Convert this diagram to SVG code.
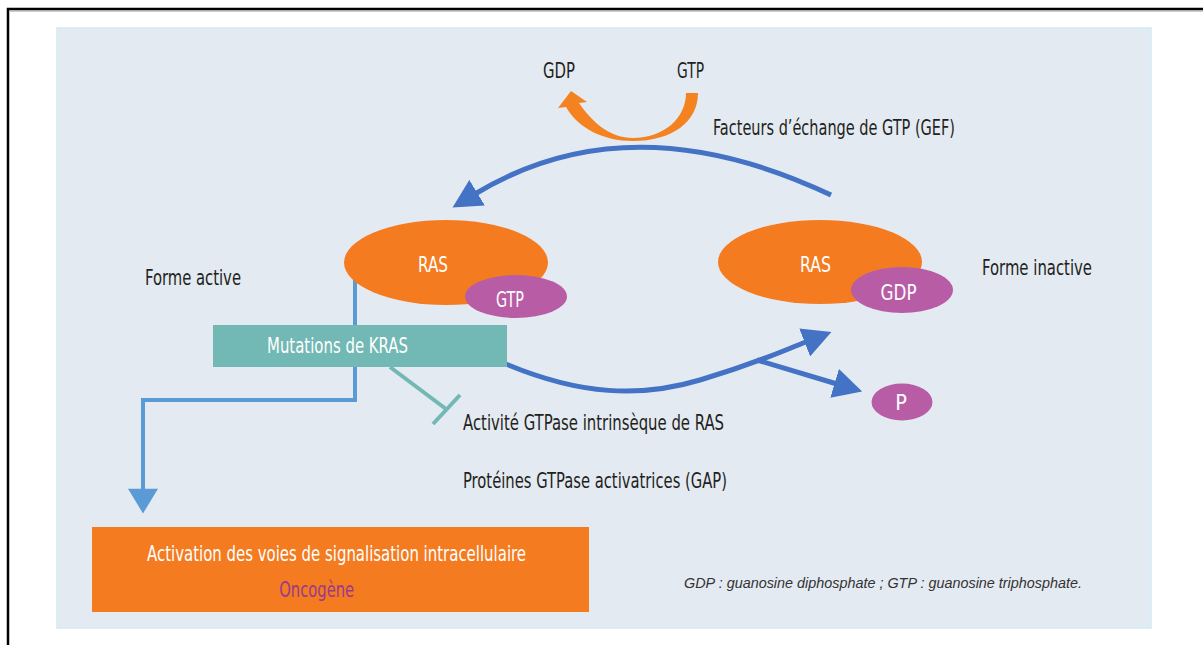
<svg xmlns="http://www.w3.org/2000/svg" width="1203" height="645" viewBox="0 0 1203 645">
<style>
text{font-family:"Liberation Sans Narrow","DejaVu Sans Condensed","Liberation Sans",sans-serif;font-size:21.5px;fill:#231f20}
.w{fill:#ffffff}
.c{text-anchor:middle}
.ras{fill:#f47b20}
.mag{fill:#b95ca6}
.blue{fill:none;stroke:#4472c4;stroke-width:5}
.lblue{fill:none;stroke:#5b9bd5;stroke-width:4}
.teal{fill:none;stroke:#72b8b4;stroke-width:4}
.legend{font-family:"Liberation Sans",sans-serif;font-size:15.5px;font-style:italic;fill:#333}
</style>
<defs>
<marker id="ah" markerUnits="userSpaceOnUse" markerWidth="30" markerHeight="30" refX="2" refY="12" orient="auto" viewBox="0 0 24 24">
<path d="M0,0 L23,12 L0,24 Z" fill="#4472c4"/>
</marker>
<marker id="ahl" markerUnits="userSpaceOnUse" markerWidth="30" markerHeight="30" refX="2" refY="14" orient="auto" viewBox="0 0 24 28">
<path d="M0,0 L23,14 L0,28 Z" fill="#5b9bd5"/>
</marker>
</defs>
<rect x="0" y="0" width="1203" height="645" fill="#ffffff"/>
<path d="M8 645 L8 9 L1203 9" fill="none" stroke="#000" stroke-width="2.5"/>
<line x1="10" y1="11" x2="1203" y2="11" stroke="#9a9a9a" stroke-width="1"/>
<rect id="panel" x="57" y="28" width="1094" height="600" fill="#e4eaf2" stroke="#d2ecf6" stroke-width="1.5"/>

<g id="connectors">
<polyline class="lblue" points="355,272 355,400 143,400 143,491" marker-end="url(#ahl)"/>
<path class="blue" d="M 831 195 Q 630 100 475 194" marker-end="url(#ah)"/>
<path class="blue" d="M 506 364 C 580 395, 640 398, 700 380 S 780 352, 807 341.5" marker-end="url(#ah)"/>
<path class="blue" d="M 757 360 L 837 384" marker-end="url(#ah)"/>
<g id="inhibition">
<line class="teal" x1="390" y1="367" x2="446" y2="409"/>
<line class="teal" x1="433" y1="424" x2="460" y2="395"/>
</g>
<path id="exchange" d="M 698 93 C 698 122, 672 141, 633 141 C 603 141, 578 128, 566 107 L 558 108 L 571 91 L 587 102 L 579 103 C 592 122, 610 138, 633 138 C 664 138, 686 118, 686 93 Z" fill="#f58220"/>
</g>

<g id="gdp-top"><text x="543" y="78" textLength="32" lengthAdjust="spacingAndGlyphs">GDP</text></g>
<g id="gtp-top"><text x="677" y="78" textLength="27" lengthAdjust="spacingAndGlyphs">GTP</text></g>
<g id="gef-label"><text x="713" y="135" textLength="242" lengthAdjust="spacingAndGlyphs">Facteurs d’échange de GTP (GEF)</text></g>

<g id="ras-active">
<ellipse class="ras" cx="446" cy="262.5" rx="102" ry="42.5"/>
<text class="w c" x="433" y="272" textLength="30" lengthAdjust="spacingAndGlyphs">RAS</text>
<ellipse class="mag" cx="516" cy="296.5" rx="51" ry="21.5"/>
<text class="w c" x="510" y="307" textLength="28" lengthAdjust="spacingAndGlyphs">GTP</text>
</g>
<g id="label-active"><text x="145" y="285" textLength="96" lengthAdjust="spacingAndGlyphs">Forme active</text></g>

<g id="ras-inactive">
<ellipse class="ras" cx="820" cy="262" rx="102" ry="42"/>
<text class="w c" x="815.5" y="272" textLength="31" lengthAdjust="spacingAndGlyphs">RAS</text>
<ellipse class="mag" cx="902" cy="290" rx="51" ry="23"/>
<text class="w c" x="898.5" y="300" textLength="36" lengthAdjust="spacingAndGlyphs">GDP</text>
</g>
<g id="label-inactive"><text x="982" y="275" textLength="110" lengthAdjust="spacingAndGlyphs">Forme inactive</text></g>

<g id="kras">
<rect x="213" y="325" width="294" height="42" fill="#72b8b4"/>
<text class="w" x="267" y="353" textLength="141" lengthAdjust="spacingAndGlyphs">Mutations de KRAS</text>
</g>

<g id="p-node">
<ellipse class="mag" cx="902" cy="402" rx="30.5" ry="18.5"/>
<text class="w c" x="901" y="410" font-size="18">P</text>
</g>

<g id="label-gtpase"><text x="463" y="430" textLength="261" lengthAdjust="spacingAndGlyphs">Activité GTPase intrinsèque de RAS</text></g>
<g id="label-gap"><text x="463" y="488" textLength="264" lengthAdjust="spacingAndGlyphs">Protéines GTPase activatrices (GAP)</text></g>

<g id="activation">
<rect x="92" y="527" width="497" height="85" fill="#f47b20"/>
<text class="w c" x="336.5" y="561" textLength="379" lengthAdjust="spacingAndGlyphs">Activation des voies de signalisation intracellulaire</text>
<text class="c" x="316.7" y="597" style="fill:#9b3a8a" textLength="75" lengthAdjust="spacingAndGlyphs">Oncogène</text>
</g>

<g id="legend"><text class="legend" x="684" y="588" textLength="398" lengthAdjust="spacingAndGlyphs">GDP : guanosine diphosphate ; GTP : guanosine triphosphate.</text></g>
</svg>
